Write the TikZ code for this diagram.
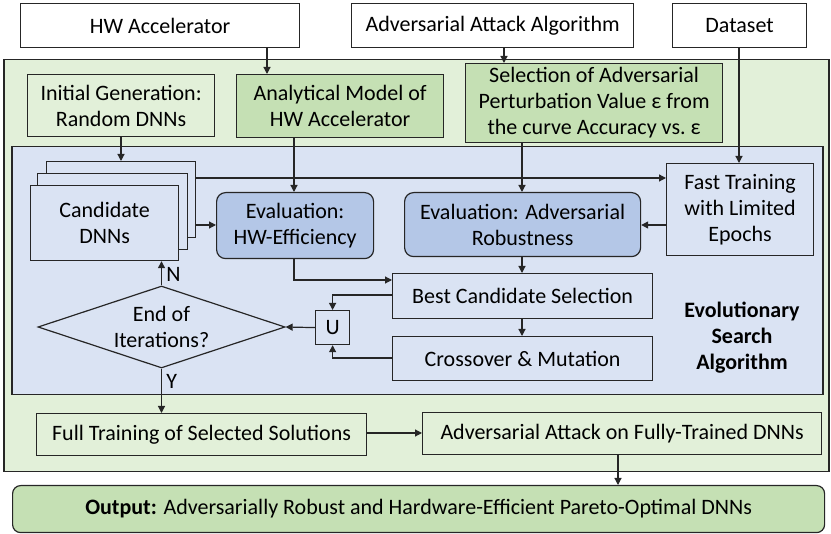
\documentclass[tikz,border=0pt]{standalone}
\usepackage{fontspec}
\setmainfont{Carlito}
\usetikzlibrary{arrows.meta,shapes.geometric,calc}
\definecolor{lgreen}{HTML}{E2F0D9}
\definecolor{mgreen}{HTML}{C5E0B4}
\definecolor{lblue}{HTML}{DAE3F3}
\definecolor{mblue}{HTML}{B4C7E7}
\definecolor{edge}{HTML}{262626}
\begin{document}
\begin{tikzpicture}[x=1pt,y=-1pt,
  font=\fontsize{22}{26}\selectfont,
  box/.style={draw=edge,line width=1.2pt,inner sep=0pt,align=center,anchor=north west},
  rbox/.style={box,rounded corners=9pt},
  arr/.style={draw=edge,line width=1.2pt,-{Triangle[length=7pt,width=7pt]}},
  ln/.style={draw=edge,line width=1.2pt}]
\useasboundingbox (0,0) rectangle (831,534);
% top inputs
\node[box,fill=white,minimum width=279pt,minimum height=44pt] (hw) at (20,3) {HW Accelerator};
\node[box,fill=white,minimum width=282pt,minimum height=44pt] (atk) at (351,3) {Adversarial Attack Algorithm};
\node[box,fill=white,minimum width=134pt,minimum height=44pt] (ds) at (672,3) {Dataset};
% outer region
\node[box,fill=lgreen,line width=1.5pt,minimum width=825pt,minimum height=412pt] (outer) at (3,59) {};
\node[box,fill=lgreen,minimum width=187pt,minimum height=62pt] (init) at (27,74) {Initial Generation:\\Random DNNs};
\node[box,fill=mgreen,minimum width=207pt,minimum height=63pt] (anal) at (236,74) {Analytical Model of\\HW Accelerator};
\node[box,fill=mgreen,minimum width=257pt,minimum height=79pt] (sel) at (465,63) {Selection of Adversarial\\Perturbation Value ε from\\the curve Accuracy vs.\ ε};
% blue region
\node[box,fill=lblue,line width=1.5pt,minimum width=811pt,minimum height=248pt] (blue) at (11,146) {};
\node[box,fill=lblue,minimum width=149pt,minimum height=76pt] (cback) at (46,161) {};
\node[box,fill=lblue,minimum width=150pt,minimum height=76pt] (cmid) at (37,173) {};
\node[box,fill=lblue,minimum width=148pt,minimum height=75pt] (cand) at (30,185) {Candidate\\DNNs};
\node[rbox,fill=mblue,minimum width=157pt,minimum height=66pt] (evhw) at (216,192) {Evaluation:\\HW-Efficiency};
\node[rbox,fill=mblue,minimum width=236pt,minimum height=64pt] (evadv) at (404,192) {Evaluation: Adversarial\\Robustness};
\node[box,fill=lblue,minimum width=147pt,minimum height=92pt] (fast) at (666,163) {Fast Training\\with Limited\\Epochs};
\node[box,fill=lblue,minimum width=260pt,minimum height=45pt] (best) at (392,273) {Best Candidate Selection};
\node[box,fill=lblue,minimum width=260pt,minimum height=44pt] (cross) at (392,336) {Crossover \& Mutation};
\node[box,fill=lblue,minimum width=34pt,minimum height=34pt] (U) at (315,310) {U};
\node[draw=edge,line width=1.2pt,fill=lblue,diamond,aspect=3.01,inner sep=0pt,minimum width=247pt,minimum height=82pt,align=center] (dia) at (161.5,327) {End of\\Iterations?};
\node[font=\fontsize{22}{26}\selectfont\bfseries,align=center] (evo) at (742,338) {Evolutionary\\Search\\Algorithm};
% bottom
\node[box,fill=lgreen,minimum width=330pt,minimum height=42pt] (full) at (36,413) {Full Training of Selected Solutions};
\node[box,fill=lgreen,minimum width=399pt,minimum height=42pt] (adv) at (422,412) {Adversarial Attack on Fully-Trained DNNs};
\node[rbox,fill=mgreen,rounded corners=8pt,minimum width=812pt,minimum height=47pt] (out) at (12,485) {\textbf{Output:} Adversarially Robust and Hardware-Efficient Pareto-Optimal DNNs};
% x/y helper coordinates
\coordinate (x267) at (267,0);
\coordinate (x504) at (504,0);
\coordinate (x739) at (739,0);
\coordinate (x121) at (121,0);
\coordinate (x294) at (294,0);
\coordinate (x522) at (522,0);
\coordinate (x618) at (618,0);
\coordinate (y178) at (0,178);
\coordinate (y225) at (0,225);
\coordinate (y280) at (0,280);
\coordinate (y295) at (0,295);
\coordinate (y358) at (0,358);
\coordinate (y433) at (0,433);
% connectors
\draw[arr] (hw.south -| x267) -- (anal.north -| x267);
\draw[arr] (atk.south -| x504) -- (sel.north -| x504);
\draw[arr] (ds.south -| x739) -- (fast.north -| x739);
\draw[arr] (init.south -| x121) -- (cback.north -| x121);
\draw[arr] (anal.south -| x294) -- (evhw.north -| x294);
\draw[arr] (sel.south -| x522) -- (evadv.north -| x522);
\draw[arr] (cback.east |- y178) -- (fast.west |- y178);
\draw[arr] (cback.east |- y225) -- (evhw.west |- y225);
\draw[arr] (fast.west |- y225) -- (evadv.east |- y225);
\draw[arr] (evhw.south -| x294) |- (best.west |- y280);
\draw[arr] (evadv.south -| x522) -- (best.north -| x522);
\draw[arr] (best.south -| x522) -- (cross.north -| x522);
\draw[arr] (best.west |- y295) -| (U.north);
\draw[arr] (cross.west |- y358) -| (U.south);
\draw[arr] (U.west) -- (dia.east);
\draw[arr] (dia.north) -- node[right=1pt,pos=0.45] (nlab) {N} (cand.south -| dia.north);
\draw[arr] (dia.south) -- node[right=1pt,pos=0.3] (ylab) {Y} (full.north -| dia.south);
\draw[arr] (full.east |- y433) -- (adv.west |- y433);
\draw[arr] (adv.south -| x618) -- (out.north -| x618);
\end{tikzpicture}
\end{document}
